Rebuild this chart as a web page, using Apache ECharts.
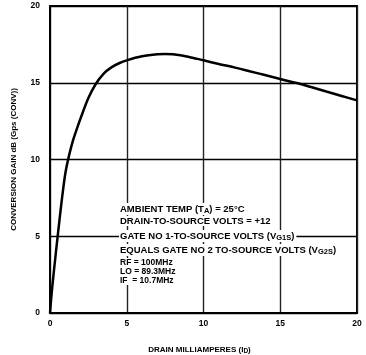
<!DOCTYPE html>
<html>
<head>
<meta charset="utf-8">
<script src="https://cdn.jsdelivr.net/npm/echarts@6/dist/echarts.min.js"></script>
<style>
  html, body { margin: 0; padding: 0; background: #fff; }
  #main { width: 366px; height: 355px; }
</style>
</head>
<body>
<div id="main"></div>
<script>
// drain current (mA) and conversion gain (dB)
const drainMA = [0, 0.1, 0.25, 0.5, 0.75, 1, 1.25, 1.5, 1.75, 2, 2.5, 3, 3.5, 4, 4.5, 5, 6, 7, 7.5, 8, 9, 10, 11, 12, 13, 14, 15, 16, 17, 18, 19, 20];
const gainDB = [0, 1.2, 2.7, 5.0, 7.2, 9.1, 10.3, 11.25, 12.0, 12.7, 14.0, 14.95, 15.6, 16.0, 16.27, 16.46, 16.72, 16.86, 16.88, 16.86, 16.7, 16.46, 16.22, 16.0, 15.75, 15.5, 15.24, 15.0, 14.72, 14.43, 14.14, 13.85];
const xTicks = [0, 5, 10, 15, 20];
const yTicks = [0, 5, 10, 15, 20];

const font = 'Liberation Sans, Arial, sans-serif';
const chart = echarts.init(document.getElementById('main'), null, { renderer: 'canvas' });

const txt = { fontSize: 8, fontWeight: 'bold', fontFamily: font, color: '#000' };
const sub = { fontSize: 6.5, fontWeight: 'bold', fontFamily: font, color: '#000', verticalAlign: 'bottom', padding: [4, 0, 0, 0] };

// note lines inside the plot
function note(y, text, size) {
    return {
        type: 'text',
        left: 119,
        top: y,
        z: 100,
        style: {
            text: text,
            fill: '#000',
            backgroundColor: '#fff',
            padding: [0, 2, 0, 1],
            rich: {
                t: Object.assign({}, txt, { fontSize: size }),
                s: Object.assign({}, sub, { fontSize: size - 2 })
            }
        }
    };
}

const option = {
    animation: false,
    grid: {
        left: 50, right: 9, top: 6, bottom: 42,
        outerBoundsMode: 'none',
        show: true, borderColor: '#000', borderWidth: 2
    },
    xAxis: {
        type: 'value',
        min: xTicks[0], max: xTicks[xTicks.length - 1], interval: 5,
        name: '{t|DRAIN MILLIAMPERES (I}{s|D}{t|)}',
        nameLocation: 'middle',
        nameGap: 31,
        nameTextStyle: { padding: [0, 8, 0, 0], rich: { t: txt, s: sub } },
        axisLine: { lineStyle: { color: '#000', width: 2 } },
        axisTick: { show: false },
        axisLabel: { margin: 6, color: '#000', fontSize: 8.5, fontWeight: 'bold', fontFamily: font },
        splitLine: { lineStyle: { color: '#222', width: 1.4 } }
    },
    yAxis: {
        type: 'value',
        min: yTicks[0], max: yTicks[yTicks.length - 1], interval: 5,
        name: '{t|CONVERSION GAIN dB (Gps (CONV))}',
        nameLocation: 'middle',
        nameGap: 32,
        nameTextStyle: { rich: { t: txt } },
        axisLine: { lineStyle: { color: '#000', width: 2 } },
        axisTick: { show: false },
        axisLabel: { margin: 10, color: '#000', fontSize: 8.5, fontWeight: 'bold', fontFamily: font },
        splitLine: { lineStyle: { color: '#000', width: 1.4 } }
    },
    series: [{
        type: 'line',
        data: drainMA.map((x, i) => [x, gainDB[i]]),
        showSymbol: false,
        smooth: 0.3,
        lineStyle: { color: '#000', width: 2.5 },
        z: 3
    }],
    graphic: [
        note(203, '{t|AMBIENT TEMP (T}{s|A}{t|) = 25°C}', 9.5),
        note(216, '{t|DRAIN-TO-SOURCE VOLTS = +12}', 9.5),
        note(230, '{t|GATE NO 1-TO-SOURCE VOLTS (V}{s|G1S}{t|)}', 9.5),
        note(244, '{t|EQUALS GATE NO 2 TO-SOURCE VOLTS (V}{s|G2S}{t|)}', 9.5),
        note(258, '{t|RF = 100MHz}', 8.5),
        note(267, '{t|LO = 89.3MHz}', 8.5),
        note(276, '{t|IF  = 10.7MHz}', 8.5)
    ]
};

chart.setOption(option);
</script>
</body>
</html>
